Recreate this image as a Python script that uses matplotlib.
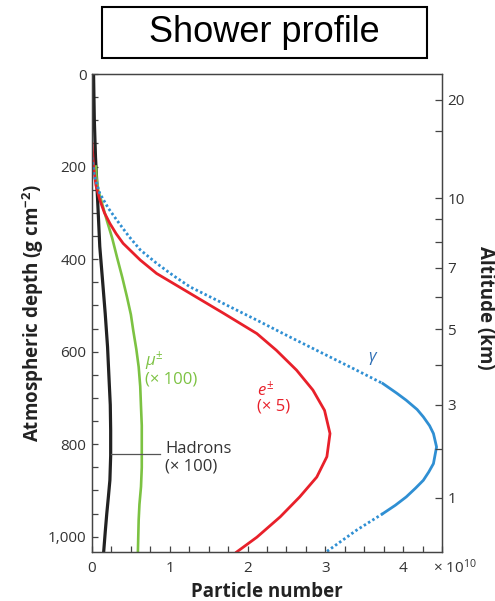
import matplotlib
matplotlib.use('Agg')
import matplotlib.pyplot as plt
import matplotlib.patches as patches
from matplotlib.ticker import MultipleLocator, FixedLocator
import numpy as np

plt.rcParams['font.family'] = ['Open Sans', 'DejaVu Sans']
plt.rcParams['mathtext.fontset'] = 'custom'
plt.rcParams['mathtext.rm'] = 'Open Sans'
plt.rcParams['mathtext.it'] = 'Open Sans:italic'
plt.rcParams['mathtext.bf'] = 'Open Sans:bold'

# curves: depth (g cm^-2) and particle number (x 1e10)
had_depth = [0, 100, 180, 229, 300, 373, 445, 518, 590, 662, 715, 770, 825, 878, 915, 950, 990, 1033]
had_n = [0.02, 0.03, 0.045, 0.06, 0.08, 0.10, 0.135, 0.17, 0.20, 0.22, 0.235, 0.24, 0.24, 0.23,
         0.21, 0.19, 0.17, 0.15]

mu_depth = [200, 229, 251, 280, 316, 355, 395, 440, 482, 520, 554, 595, 633, 675, 719, 760,
            806, 850, 892, 930, 964, 1033]
mu_n = [0.05, 0.06, 0.08, 0.13, 0.19, 0.26, 0.32, 0.39, 0.45, 0.50, 0.53, 0.57, 0.60, 0.62,
        0.63, 0.64, 0.64, 0.64, 0.63, 0.61, 0.60, 0.59]

e_depth = [150, 200, 240, 272, 300, 323, 345, 366, 402, 431, 474, 517, 561, 597, 640, 683,
           727, 777, 827, 871, 914, 957, 1001, 1033]
e_n = [0.0, 0.02, 0.05, 0.10, 0.16, 0.23, 0.31, 0.40, 0.62, 0.83, 1.26, 1.69, 2.12, 2.37, 2.63,
       2.84, 2.99, 3.06, 3.02, 2.89, 2.67, 2.42, 2.12, 1.86]

g_depth = [180, 220, 258, 290, 316, 350, 380, 409, 435, 460, 496, 532, 568, 604, 640, 669,
           690, 705, 725, 741, 760, 777, 806, 842, 860, 878, 895, 914, 932, 950, 986, 1033]
g_n = [0.0, 0.03, 0.10, 0.21, 0.32, 0.47, 0.62, 0.83, 1.04, 1.26, 1.69, 2.12, 2.54, 2.97, 3.40,
       3.74, 3.92, 4.04, 4.18, 4.26, 4.34, 4.39, 4.43, 4.39, 4.33, 4.26, 4.16, 4.04, 3.90, 3.74,
       3.40, 3.01]

# altitude scale (km) vs depth (standard atmosphere)
alt_major = [20, 10, 7, 5, 3, 1]
alt_major_depth = [56, 269, 419, 552, 715, 916]
alt_minor_depth = [123, 313, 362, 482, 629, 810]

left_ticks = [0, 200, 400, 600, 800, 1000]
left_labels = ['0', '200', '400', '600', '800', '1,000']
bottom_ticks = [0, 1, 2, 3, 4]

c_had = '#222222'
c_mu = '#7cc242'
c_e = '#e8202a'
c_g = '#2f8fd3'

fig = plt.figure(figsize=(4.95, 6.01), dpi=100)
ax = fig.add_axes([92/495, 1-552/601, 350/495, 478/601])

ax.plot(had_n, had_depth, color=c_had, lw=2.3)
ax.plot(mu_n, mu_depth, color=c_mu, lw=1.9)
ax.plot(e_n, e_depth, color=c_e, lw=2.0)

g_depth = np.array(g_depth)
g_n = np.array(g_n)
up = g_depth <= 669
mid = (g_depth >= 669) & (g_depth <= 950)
low = g_depth >= 950
ax.plot(g_n[up], g_depth[up], color=c_g, lw=2.0, ls=(0, (0.9, 0.9)))
ax.plot(g_n[mid], g_depth[mid], color=c_g, lw=2.0)
ax.plot(g_n[low], g_depth[low], color=c_g, lw=2.0, ls=(0, (0.9, 0.9)))

ax.set_xlim(0, 4.5)
ax.set_ylim(1033, 0)

ax.set_yticks(left_ticks, labels=left_labels)
ax.yaxis.set_minor_locator(MultipleLocator(50))
ax.set_xticks(bottom_ticks)
ax.xaxis.set_minor_locator(MultipleLocator(0.25))
ax.tick_params(which='both', direction='in', color='#444444', width=0.9, length=4.5,
               labelsize=11, labelcolor='#333333')
ax.tick_params(axis='x', pad=6.5)
ax.tick_params(axis='y', pad=4)
for s in ax.spines.values():
    s.set_color('#444444')
    s.set_linewidth(0.9)

ax2 = ax.twinx()
ax2.set_ylim(ax.get_ylim())
ax2.set_yticks(alt_major_depth, labels=[str(a) for a in alt_major])
ax2.yaxis.set_minor_locator(FixedLocator(alt_minor_depth))
ax2.tick_params(which='both', direction='in', color='#444444', width=0.9, length=5,
                labelsize=11, labelcolor='#333333', pad=4)
for s in ax2.spines.values():
    s.set_color('#444444')
    s.set_linewidth(0.9)

ax.set_ylabel('Atmospheric depth (g cm$^{\\mathbf{-2}}$)', fontsize=13.5, fontweight='bold',
              color='#222222', va='center')
ax.yaxis.set_label_coords(-0.169, 0.5)
ax.set_xlabel('Particle number', fontsize=13.5, fontweight='bold', color='#222222')
ax.xaxis.set_label_coords(0.5, -0.062)
ax2.set_ylabel('Altitude (km)', fontsize=13.5, fontweight='bold', color='#222222',
               rotation=-90, va='center')
ax2.yaxis.set_label_coords(1.123, 0.51)

fig.text(433/495, 1-568/601, '× 10$^{10}$', fontsize=11, color='#333333',
         ha='left', va='center')

# curve labels
ax.text(3.62, 615, '$\\gamma$', color='#2f6fb5', fontsize=12, ha='center', va='center')
ax.text(0.68, 620, '$\\mu^{\\pm}$', color=c_mu, fontsize=12, ha='left', va='center')
ax.text(0.68, 660, '(× 100)', color=c_mu, fontsize=12, ha='left', va='center')
ax.text(2.12, 683, '$e^{\\pm}$', color=c_e, fontsize=12, ha='left', va='center')
ax.text(2.12, 718, '(× 5)', color=c_e, fontsize=12, ha='left', va='center')
ax.text(0.94, 810, 'Hadrons', color='#333333', fontsize=12, ha='left', va='center')
ax.text(0.94, 848, '(× 100)', color='#333333', fontsize=12, ha='left', va='center')
ax.plot([0.25, 0.87], [822, 822], color='#555555', lw=0.9)

# title box
fig.patches.append(patches.Rectangle((102/495, 1-58/601), 325/495, 51/601,
                                     transform=fig.transFigure, fill=False,
                                     ec='black', lw=1.5))
fig.text(264.5/495, 1-32.5/601, 'Shower profile', fontsize=26, family='Liberation Sans',
         ha='center', va='center', color='black')

fig.savefig('out.png', dpi=100)
